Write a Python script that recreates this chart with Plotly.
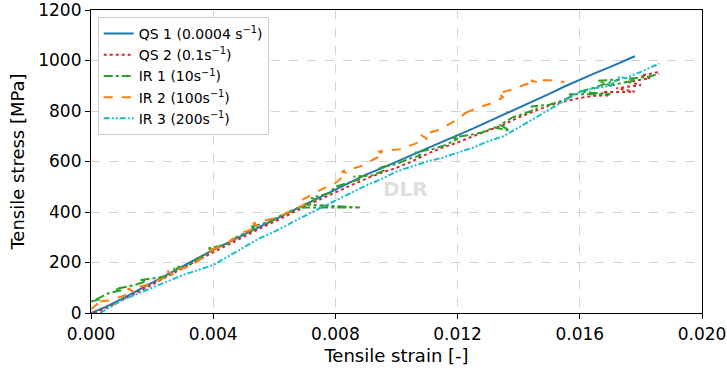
import plotly.graph_objects as go

# ---------------- data ----------------
qs1_strain = [0, 0.0005, 0.001, 0.0015, 0.002, 0.0025, 0.003, 0.0035, 0.004, 0.0045, 0.005, 0.0055,
              0.006, 0.0065, 0.007, 0.0075, 0.008, 0.0085, 0.009, 0.0095, 0.010, 0.0105, 0.011, 0.0115,
              0.012, 0.0125, 0.013, 0.0135, 0.014, 0.0145, 0.015, 0.0155, 0.016, 0.0165, 0.017, 0.0175, 0.0178]
qs1_stress = [0, 25, 55, 88, 120, 152, 185, 218, 250, 280, 310, 340,
              370, 400, 430, 460, 488, 518, 548, 573, 598, 625, 652, 677,
              702, 730, 758, 785, 812, 840, 868, 897, 925, 950, 975, 1003, 1017]

qs2_strain = [0.0001, 0.0005, 0.001, 0.0015, 0.002, 0.0025, 0.003, 0.0035, 0.004, 0.0045, 0.005, 0.0055,
              0.006, 0.0065, 0.007, 0.0075, 0.008, 0.0085, 0.009, 0.0095, 0.010, 0.0105, 0.011, 0.0115,
              0.012, 0.0125, 0.013, 0.0135, 0.014, 0.0145, 0.015, 0.0155, 0.016, 0.0165, 0.0170, 0.0168,
              0.0178, 0.0172, 0.0180, 0.0176, 0.0183, 0.0180, 0.0186]
qs2_stress = [0, 20, 50, 80, 112, 145, 178, 210, 240, 272, 302, 333,
              362, 392, 422, 450, 478, 505, 532, 555, 575, 600, 630, 655,
              675, 700, 722, 745, 775, 800, 822, 838, 852, 860, 862, 875,
              876, 890, 903, 915, 930, 940, 955]

ir1_strain = [0, 0.0003, 0.0001, 0.0006, 0.001, 0.0008, 0.0014, 0.0018, 0.0016, 0.0022, 0.0026, 0.0029,
              0.0027, 0.0031, 0.0035, 0.004, 0.0038, 0.0044, 0.0046, 0.005, 0.0054, 0.0052, 0.0058, 0.0062,
              0.0066, 0.0068, 0.0088, 0.007, 0.0074, 0.0072, 0.0078, 0.008, 0.0084, 0.0088, 0.0086, 0.0092,
              0.0096, 0.0094, 0.0100, 0.0104, 0.0108, 0.0106, 0.0112, 0.0116, 0.012, 0.0118, 0.0124, 0.0128,
              0.0132, 0.0137, 0.0134, 0.0138, 0.0142, 0.0146, 0.0144, 0.015, 0.0154, 0.0158, 0.0156, 0.0170,
              0.016, 0.0164, 0.0173, 0.0166, 0.017, 0.0174, 0.0178, 0.0176, 0.0182, 0.0186]
ir1_stress = [45, 55, 50, 80, 90, 95, 110, 125, 130, 140, 150, 185,
              175, 180, 215, 250, 255, 270, 290, 315, 335, 340, 360, 385,
              405, 418, 418, 430, 450, 455, 475, 500, 515, 530, 540, 545,
              565, 575, 590, 610, 625, 635, 650, 665, 690, 695, 705, 715,
              735, 722, 745, 775, 790, 810, 818, 825, 840, 862, 866, 867,
              876, 890, 925, 920, 900, 912, 920, 928, 935, 947]

ir2_strain = [0, 0.0002, 0.0001, 0.0006, 0.001, 0.0014, 0.0012, 0.0018, 0.0022, 0.0027, 0.0025, 0.0031,
              0.0035, 0.004, 0.0038, 0.0045, 0.005, 0.0055, 0.0053, 0.006, 0.0065, 0.007, 0.0068, 0.0075,
              0.008, 0.0084, 0.0082, 0.0088, 0.0092, 0.0096, 0.0094, 0.0101, 0.0106, 0.011, 0.0108, 0.0114,
              0.0119, 0.0123, 0.0121, 0.0127, 0.0131, 0.0135, 0.0133, 0.0138, 0.0142, 0.0146, 0.0144, 0.015,
              0.0155]
ir2_stress = [15, 35, 45, 50, 65, 85, 95, 110, 130, 150, 165, 180,
              205, 255, 240, 280, 320, 340, 355, 375, 400, 430, 440, 487,
              515, 554, 560, 580, 605, 630, 640, 648, 670, 690, 705, 725,
              760, 795, 785, 815, 830, 855, 870, 885, 905, 915, 920, 922,
              915]

ir3_strain = [0.0003, 0.0005, 0.001, 0.0015, 0.002, 0.0025, 0.003, 0.0035, 0.004, 0.0045, 0.005, 0.0055,
              0.006, 0.0065, 0.007, 0.0075, 0.008, 0.0085, 0.009, 0.0095, 0.010, 0.0105, 0.011, 0.0115,
              0.012, 0.0125, 0.013, 0.0135, 0.014, 0.0145, 0.015, 0.0155, 0.016, 0.0165, 0.017, 0.0173,
              0.0175, 0.018, 0.0186]
ir3_stress = [0, 15, 50, 75, 100, 125, 150, 170, 190, 225, 260, 295,
              322, 355, 385, 415, 445, 475, 505, 530, 560, 580, 600, 615,
              635, 655, 680, 700, 735, 770, 805, 840, 876, 890, 900, 935,
              930, 955, 988]

series_names = ["QS 1 (0.0004 s<sup>−1</sup>)", "QS 2 (0.1s<sup>−1</sup>)", "IR 1 (10s<sup>−1</sup>)",
                "IR 2 (100s<sup>−1</sup>)", "IR 3 (200s<sup>−1</sup>)"]
x_ticks = [0.000, 0.004, 0.008, 0.012, 0.016, 0.020]
y_ticks = [0, 200, 400, 600, 800, 1000, 1200]

# ---------------- figure ----------------
FONT = "DejaVu Sans"
styles = [
    ("#1f77b4", "solid"),
    ("#d62728", "dot"),
    ("#2ca02c", "dashdot"),
    ("#ff7f0e", "dash"),
    ("#17becf", "6px,2px,2px,2px,2px,2px"),
]
data = [(qs1_strain, qs1_stress), (qs2_strain, qs2_stress), (ir1_strain, ir1_stress),
        (ir2_strain, ir2_stress), (ir3_strain, ir3_stress)]

fig = go.Figure()
for (xs, ys), name, (col, dash) in zip(data, series_names, styles):
    fig.add_trace(go.Scatter(x=xs, y=ys, mode="lines", name=name,
                             line=dict(color=col, dash=dash, width=2)))

fig.add_annotation(x=0.0103, y=490, xref="x", yref="y", text="<b>DLR</b>", showarrow=False,
                   font=dict(family=FONT, size=20, color="rgba(200,200,200,0.6)"))

axis_common = dict(
    showline=True, linecolor="black", linewidth=1.2, mirror=True,
    ticks="outside", ticklen=5, tickcolor="black", tickwidth=1.2,
    showgrid=True, gridcolor="#d3d3d3", griddash="dash", gridwidth=1,
    zeroline=False, automargin=False, ticklabeloverflow="allow",
    tickfont=dict(family=FONT, size=17, color="black"),
)
fig.update_xaxes(range=[0, 0.020], tickvals=x_ticks, ticktext=[f"{v:.3f}" for v in x_ticks],
                 title=dict(text="Tensile strain [-]", font=dict(family=FONT, size=18, color="black"),
                            standoff=6),
                 **axis_common)
fig.update_yaxes(range=[0, 1200], tickvals=y_ticks, ticktext=[str(v) for v in y_ticks],
                 title=dict(text="Tensile stress [MPa]", font=dict(family=FONT, size=18, color="black"),
                            standoff=8),
                 **axis_common)

fig.update_layout(
    width=727, height=371, autosize=False,
    margin=dict(l=91, r=25, t=10, b=58, pad=0),
    plot_bgcolor="white", paper_bgcolor="white",
    font=dict(family=FONT, color="black"),
    legend=dict(x=0.011, y=0.977, xanchor="left", yanchor="top",
                bgcolor="rgba(255,255,255,0.85)", bordercolor="#cccccc", borderwidth=1,
                font=dict(family=FONT, size=14, color="black"), tracegroupgap=0),
    showlegend=True,
)

fig.write_html("out.html", config={"displayModeBar": False},
               post_script="document.body.style.margin='0';document.body.style.overflow='hidden';")
